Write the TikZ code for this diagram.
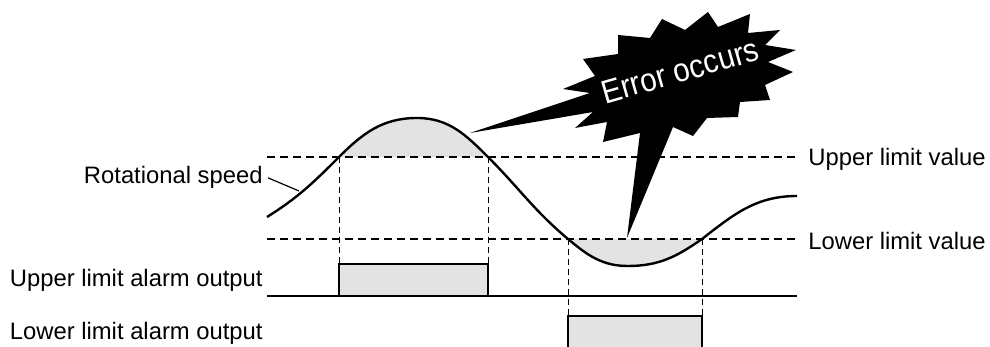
\documentclass[tikz,border=0pt]{standalone}
\usepackage{fontspec}
\setmainfont{Liberation Sans}
\usetikzlibrary{positioning}

% the speed curve, used for the shading and for the line itself
\newcommand{\speedcurve}{(S0) to[out=32, in=225] (S1) to[out=45, in=180] (S2)
    to[out=0, in=135] (S3) to[out=-45, in=140] (S4) to[out=-40, in=180] (S5)
    to[out=0, in=215] (S6) to[out=38, in=180] (S7)}

\begin{document}
\begin{tikzpicture}[x=0.5pt, y=0.5pt,
    every node/.style={font=\fontsize{11.9}{14}\selectfont, inner sep=0pt},
    limit/.style={dash pattern=on 4pt off 2.5pt, line width=0.65pt},
    guide/.style={dash pattern=on 3pt off 2pt, line width=0.5pt},
    signal/.style={line width=0.9pt},
    shade/.style={fill=black!11},
    speed/.style={line width=1.2pt}]

    \useasboundingbox (0,0) rectangle (990,347);

    % Points on the speed curve
    \coordinate (S0) at (267,130);
    \coordinate (S1) at (339,190);
    \coordinate (S2) at (417,229);
    \coordinate (S3) at (488,190);
    \coordinate (S4) at (568,108);
    \coordinate (S5) at (628,81);
    \coordinate (S6) at (702,108);
    \coordinate (S7) at (797,151);
    \coordinate (tap) at (299,156);

    % Shaded parts beyond the limits
    \begin{scope}
        \clip \speedcurve -- (797,0) -- (267,0) -- cycle;
        \fill[shade] (339,190) rectangle (488,260);
    \end{scope}
    \begin{scope}
        \clip \speedcurve -- (797,347) -- (267,347) -- cycle;
        \fill[shade] (568,60) rectangle (702,108);
    \end{scope}

    % Limit lines
    \draw[limit] (267,190) -- (797,190);
    \draw[limit] (267,108) -- (797,108);

    % Alarm outputs
    \filldraw[signal, shade, draw=black] (267,51) -- (339,51) -- (339,83) -- (488,83) -- (488,51) -- (797,51);
    \draw[signal] (267,51) -- (797,51);
    \filldraw[signal, shade, draw=black] (568,0) -- (568,31) -- (702,31) -- (702,0);

    % Guide lines down to the outputs
    \draw[guide] (S1) -- (339,83);
    \draw[guide] (S3) -- (488,83);
    \draw[guide] (S4) -- (568,31);
    \draw[guide] (S6) -- (702,31);

    % The speed itself
    \draw[speed] \speedcurve;

    % Labels
    \node[anchor=base east, inner xsep=2.5pt] (speedlbl) at (268,163) {Rotational speed};
    \draw[line width=0.6pt] (speedlbl.east) -- (tap);
    \node[anchor=base east] (upalarm) at (263,60) {Upper limit alarm output};
    \node[anchor=base east] (lowalarm) at (263,7) {Lower limit alarm output};
    \node[anchor=base west] (upval) at (808,181) {Upper limit value};
    \node[anchor=base west] (lowval) at (808,97) {Lower limit value};

    % Error burst
    \fill[black] (470,214) -- (590,254) -- (563,258) -- (595,271) -- (583,288)
        -- (618,293) -- (618,312) -- (650,309) -- (662,328) -- (685,317)
        -- (708,335) -- (718,320) -- (750,333) -- (748,314) -- (780,317)
        -- (765,302) -- (796,297) -- (768,285) -- (793,275) -- (765,262)
        -- (770,247) -- (740,245) -- (738,230) -- (707,229) -- (693,211)
        -- (673,220) -- (627,109) -- (640,214) -- (603,205) -- (607,225)
        -- (575,219) -- (593,235) -- cycle;
    \node[rotate=16, xscale=0.9, text=white, font=\fontsize{16.5}{19}\selectfont] (err) at (680,276) {Error occurs};
\end{tikzpicture}
\end{document}
